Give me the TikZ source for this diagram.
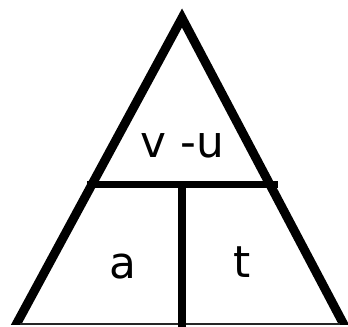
\documentclass[tikz,border=0pt]{standalone}
\usepackage{fontspec}
\setmainfont{DejaVu Sans}
\usetikzlibrary{calc}
\tikzset{
  side/.style={line width=9bp, line join=miter, miter limit=10},
  bar/.style={line width=7.5bp},
  baseline rule/.style={line width=1.6bp, draw=black!85},
  label/.style={anchor=base, inner sep=0pt, font=\fontsize{44}{52}\selectfont}
}
\begin{document}
\begin{tikzpicture}[x=1bp,y=-1bp]
  \useasboundingbox (0,0) rectangle (348,327);
  \fill[white] (0,0) rectangle (348,327);
  \coordinate (apex) at (182,18);
  \coordinate (bl) at (17,323);
  \coordinate (br) at (343,323);
  \coordinate (hl) at (87,184.5);
  \coordinate (hr) at (278,184.5);
  \coordinate (vt) at (182,184.5);
  \coordinate (vb) at (182,327);
  \coordinate (basel) at (20,324);
  \coordinate (baser) at (340,324);
  \begin{scope}
    \clip (0,0) rectangle (348,324.5);
    \draw[side] ($(bl)!-0.05!(apex)$) -- (apex) -- ($(br)!-0.05!(apex)$);
  \end{scope}
  \draw[baseline rule] (basel) -- (baser);
  \draw[bar] (hl) -- (hr);
  \draw[bar] (vt) -- (vb);
  \node[label] (top) at (182.5,157) {v -u};
  \node[label] (a) at (122.5,278) {a};
  \node[label] (t) at (242.5,277) {t};
\end{tikzpicture}
\end{document}
